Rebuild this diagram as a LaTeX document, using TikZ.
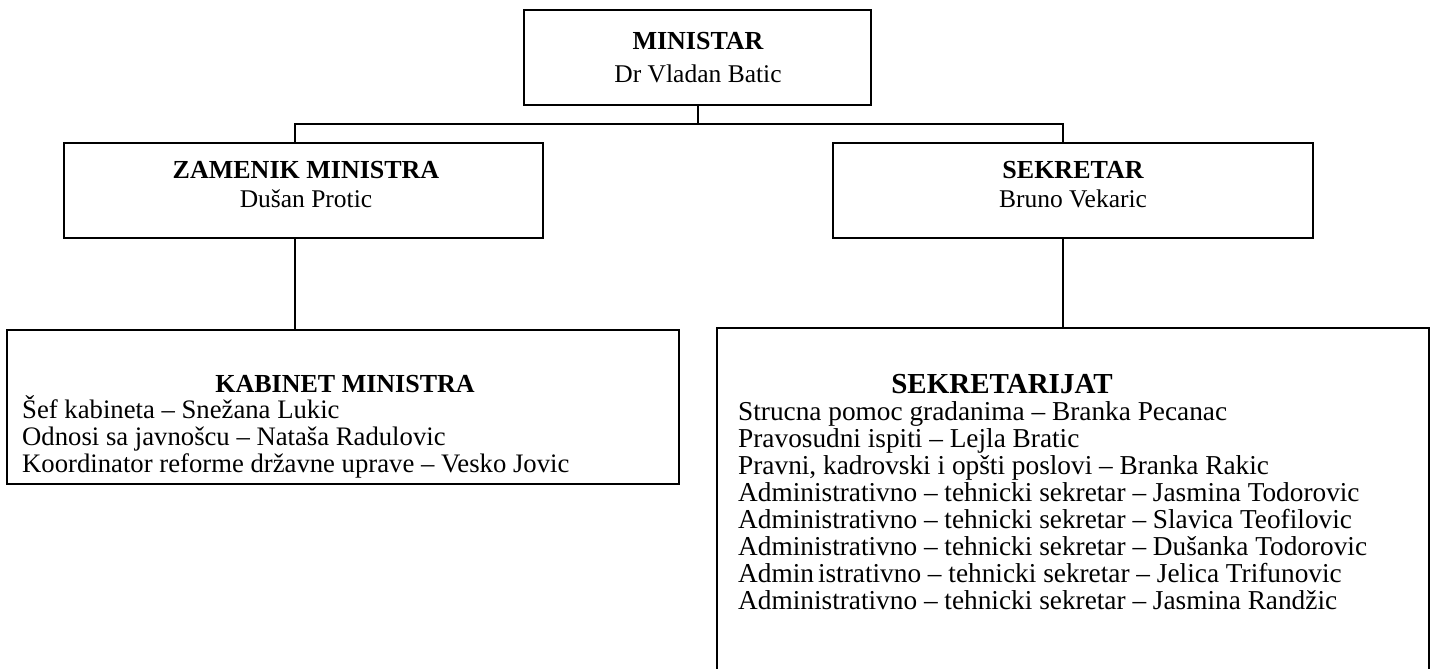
\documentclass[tikz,border=0pt]{standalone}
\usepackage{fontspec}
\setmainfont{Liberation Serif}
\usetikzlibrary{calc}
\begin{document}
\begin{tikzpicture}[x=1pt,y=-1pt,
  box/.style={draw,line width=1.5pt,rectangle,inner sep=0pt},
  hd/.style={font=\fontsize{26}{27}\selectfont\bfseries,anchor=base,inner sep=0pt},
  bighd/.style={font=\fontsize{29}{30}\selectfont\bfseries,anchor=base,inner sep=0pt},
  nm/.style={font=\fontsize{25.5}{27}\selectfont,anchor=base,inner sep=0pt},
  item/.style={font=\fontsize{27.3}{27}\selectfont,anchor=base west,inner sep=0pt},
  kitem/.style={font=\fontsize{26.7}{27}\selectfont,anchor=base west,inner sep=0pt},
  conn/.style={line width=1.5pt}]
\useasboundingbox (0,0) rectangle (1432,669);
% boxes
\node[box,minimum width=347pt,minimum height=95pt] (min) at (697.5,57.5) {};
\node[box,minimum width=479pt,minimum height=95pt] (zam) at (303.5,190.5) {};
\node[box,minimum width=480pt,minimum height=95pt] (sek) at (1073,190.5) {};
\node[box,minimum width=672pt,minimum height=154pt] (kab) at (343,407) {};
\node[inner sep=0pt,minimum width=712pt,minimum height=344pt] (sekr) at (1073,500) {};
\draw[conn] (sekr.south west) -- (sekr.north west) -- (sekr.north east) -- (sekr.south east);
% texts
\node[hd] (t1) at (698,50) {MINISTAR};
\node[nm] (t2) at (698,82) {Dr Vladan Batic};
\node[hd] (t3) at (306,178) {ZAMENIK MINISTRA};
\node[nm] (t4) at (306,207) {Dušan Protic};
\node[hd] (t5) at (1073,178) {SEKRETAR};
\node[nm] (t6) at (1073,207) {Bruno Vekaric};
\node[hd] (t7) at (345,392) {KABINET MINISTRA};
\node[bighd] (t8) at (1002,393) {SEKRETARIJAT};
\foreach \txt [count=\i] in {{Šef kabineta – Snežana Lukic},{Odnosi sa javnošcu – Nataša Radulovic},{Koordinator reforme državne uprave – Vesko Jovic}}
  \node[kitem] (k\i) at (22,391+27*\i) {\txt};
\foreach \txt [count=\i] in {{Strucna pomoc gradanima – Branka Pecanac},{Pravosudni ispiti – Lejla Bratic},{Pravni, kadrovski i opšti poslovi – Branka Rakic},{Administrativno – tehnicki sekretar – Jasmina Todorovic},{Administrativno – tehnicki sekretar – Slavica Teofilovic},{Administrativno – tehnicki sekretar – Dušanka Todorovic},{Admin\kern4pt istrativno – tehnicki sekretar – Jelica Trifunovic},{Administrativno – tehnicki sekretar – Jasmina Randžic}}
  \node[item] (s\i) at (738,393+27*\i) {\txt};
% connectors
\coordinate (m) at ($(min.south)+(0.5,0)$);
\coordinate (j) at ($(m)+(0,18)$);
\coordinate (za) at ($(zam.north)+(-8.5,0)$);
\coordinate (zb) at ($(zam.south)+(-8.5,0)$);
\coordinate (sa) at ($(sek.north)+(-10,0)$);
\coordinate (sb) at ($(sek.south)+(-10,0)$);
\draw[conn] (m) -- (j);
\draw[conn] (za) |- (j) -| (sa);
\draw[conn] (zb) -- (zb |- kab.north);
\draw[conn] (sb) -- (sb |- sekr.north);
\end{tikzpicture}
\end{document}
